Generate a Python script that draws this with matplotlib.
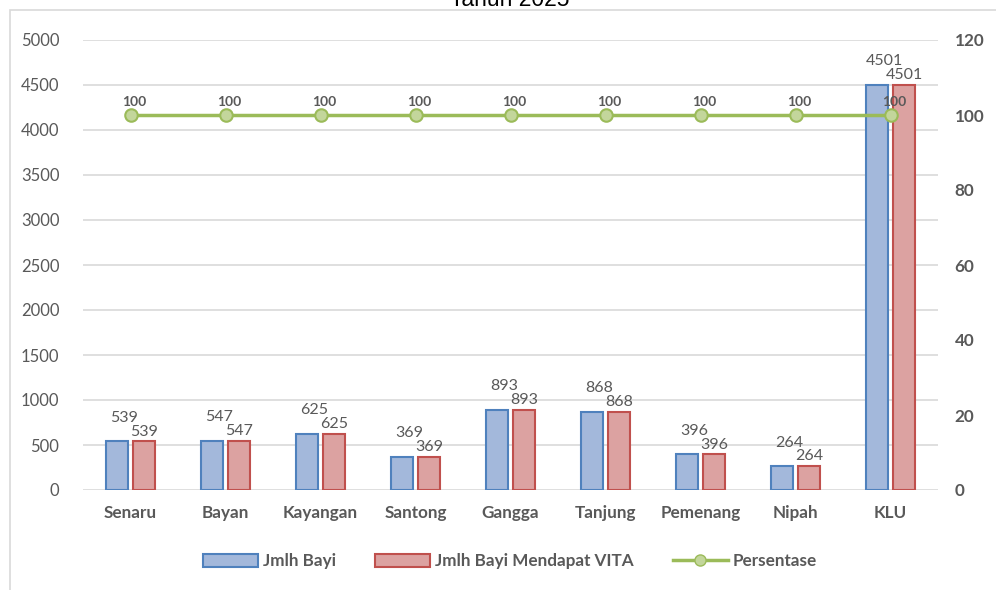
import matplotlib
matplotlib.use("Agg")
import matplotlib.pyplot as plt
import numpy as np
from matplotlib.lines import Line2D
from matplotlib.patches import Patch, Rectangle

categories = ["Senaru", "Bayan", "Kayangan", "Santong", "Gangga", "Tanjung", "Pemenang", "Nipah", "KLU"]
jmlh_bayi = [539, 547, 625, 369, 893, 868, 396, 264, 4501]
jmlh_vita = [539, 547, 625, 369, 893, 868, 396, 264, 4501]
persentase = [100, 100, 100, 100, 100, 100, 100, 100, 100]
title = "Tahun 2025"

FONT = ["Lato", "DejaVu Sans"]
plt.rcParams['font.family'] = FONT
GRAY = "#595959"

W, H = 996, 590
fig = plt.figure(figsize=(W / 100, H / 100), dpi=100)

# outer frame
fig.patches.append(Rectangle((10 / W, -0.05), 1.2, 1 - 10 / H + 0.05, transform=fig.transFigure,
                             fill=False, edgecolor="#D9D9D9", linewidth=1.2))

ax = fig.add_axes([83 / W, 1 - 490 / H, (938 - 83) / W, (490 - 40) / H])
ax2 = ax.twinx()

x = np.arange(len(categories))
w = 0.23
off = 0.142
ax.bar(x - off, jmlh_bayi, w, color="#A3B8DB", edgecolor="#4F81BD", linewidth=1.5, zorder=3)
ax.bar(x + off, jmlh_vita, w, color="#DCA2A1", edgecolor="#C0504D", linewidth=1.5, zorder=3)

for xi, v in zip(x, jmlh_bayi):
    ax.annotate(str(v), (xi - off, v), xytext=(5, 12), textcoords="offset points",
                ha="center", va="bottom", fontsize=11.5, color=GRAY)
for xi, v in zip(x, jmlh_vita):
    ax.annotate(str(v), (xi + off, v), xytext=(0, 2), textcoords="offset points",
                ha="center", va="bottom", fontsize=11.5, color=GRAY)

ax.set_xlim(-0.5, len(categories) - 0.5)
ax.set_ylim(0, 5000)
ax.set_yticks(np.arange(0, 5001, 500))
ax.yaxis.grid(True, color="#D9D9D9", linewidth=1.2, zorder=0)
ax.set_axisbelow(True)
for s in ax.spines.values():
    s.set_visible(False)
for s in ax2.spines.values():
    s.set_visible(False)
ax.tick_params(axis="y", length=0, pad=17, labelsize=12, labelcolor=GRAY)
ax.tick_params(axis="x", length=0, pad=11, labelsize=12.3, labelcolor=GRAY)
ax.set_xticks(x)
ax.set_xticklabels(categories, fontweight="bold")

ax2.plot(x, persentase, color="#9BBB59", linewidth=2.5, marker="o", markersize=9,
         markerfacecolor="#C3D69B", markeredgecolor="#9BBB59", markeredgewidth=1.5, zorder=4)
for xi, v in zip(x, persentase):
    ax2.annotate(str(v), (xi, v), xytext=(3, 5), textcoords="offset points",
                 ha="center", va="bottom", fontsize=10, fontweight="bold", color=GRAY)
ax2.set_ylim(0, 120)
ax2.set_yticks(np.arange(0, 121, 20))
ax2.tick_params(axis="y", length=0, pad=12, labelsize=12.3, labelcolor=GRAY)
for t in ax2.get_yticklabels():
    t.set_fontweight("bold")

fig.text(510 / W, 1 - 6 / H, title, ha="center", va="baseline", fontsize=16.5,
         family=["Liberation Sans", "DejaVu Sans"], color="#000000")

handles = [
    Patch(facecolor="#A3B8DB", edgecolor="#4F81BD", linewidth=1.5, label="Jmlh Bayi"),
    Patch(facecolor="#DCA2A1", edgecolor="#C0504D", linewidth=1.5, label="Jmlh Bayi Mendapat VITA"),
    Line2D([0], [0], color="#9BBB59", linewidth=2.5, marker="o", markersize=8,
           markerfacecolor="#C3D69B", markeredgecolor="#9BBB59", label="Persentase"),
]
leg = fig.legend(handles=handles, loc="center", bbox_to_anchor=(510 / W, 1 - 561 / H), ncol=3,
                 frameon=False, handlelength=3.2, handleheight=0.8, columnspacing=2.3, handletextpad=0.3,
                 prop={"weight": "bold", "size": 12.3})
for t in leg.get_texts():
    t.set_color(GRAY)

fig.savefig("out.png", dpi=100)
